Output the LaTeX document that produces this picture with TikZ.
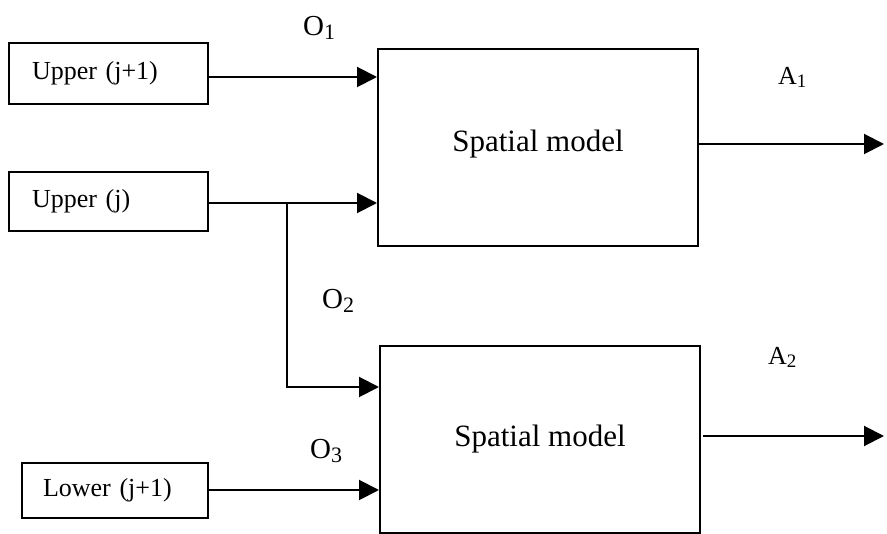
\documentclass[tikz,border=0pt]{standalone}
\usepackage{fontspec}
\setmainfont{Liberation Serif}
\usetikzlibrary{arrows.meta,calc}
\newcommand{\osub}[1]{{\fontsize{22}{22}\selectfont\raisebox{-4pt}{#1}}}
\newcommand{\asub}[1]{{\fontsize{19}{19}\selectfont\raisebox{-3pt}{#1}}}
\begin{document}
\begin{tikzpicture}[x=1pt,y=-1pt,
  lw/.style={line width=2pt},
  inbox/.style={draw,lw,align=left,font=\fontsize{26}{30}\selectfont,inner ysep=0pt},
  model/.style={draw,lw,minimum width=320pt,inner sep=0pt},
  mtext/.style={anchor=base,inner sep=0pt,font=\fontsize{31}{36}\selectfont},
  arr/.style={lw,-{Triangle[length=20pt,width=20pt]}},
  olab/.style={anchor=base west,inner sep=0pt,font=\fontsize{29}{32}\selectfont},
  alab/.style={anchor=base west,inner sep=0pt,font=\fontsize{26}{30}\selectfont}]
\useasboundingbox (0,0) rectangle (887,534);
% input boxes
\node[inbox,minimum width=199pt,minimum height=61pt,text width=153pt,inner xsep=23pt] (u1) at (108.5,73.5) {Upper (j+1)};
\node[inbox,minimum width=199pt,minimum height=59pt,text width=153pt,inner xsep=23pt] (u2) at (108.5,201.5) {Upper (j)};
\node[inbox,minimum width=186pt,minimum height=55pt,text width=144pt,inner xsep=21pt] (lo) at (115,490.5) {Lower (j+1)};
% model boxes
\node[model,minimum height=197pt] (s1) at (538,147.5) {};
\node[model,minimum height=187pt] (s2) at (540,439.5) {};
\node[mtext] (t1) at (538,152) {Spatial model};
\node[mtext] (t2) at (540,447) {Spatial model};
% connectors
\draw[arr] ([yshift=-3.5pt]u1.east) -- ([yshift=-3.5pt]u1.east -| s1.west);
\coordinate (jn) at (287,203);
\draw[lw] ([yshift=-1.5pt]u2.east) -- (jn);
\draw[arr] (jn) -- (jn -| s1.west);
\draw[arr] (jn) |- ([yshift=52.5pt]s2.west);
\draw[arr] ([yshift=0.5pt]lo.east) -- ([yshift=0.5pt]lo.east -| s2.west);
\coordinate (o1) at (884,144);
\coordinate (o2) at (884,436);
\draw[arr] ([yshift=3.5pt]s1.east) -- (o1);
\draw[arr] ([xshift=2pt,yshift=3.5pt]s2.east) -- (o2);
% labels
\node[olab] (lO1) at (303,36) {O\osub{1}};
\node[olab] (lO2) at (322,309) {O\osub{2}};
\node[olab] (lO3) at (310,459) {O\osub{3}};
\node[alab] (lA1) at (778,85) {A\asub{1}};
\node[alab] (lA2) at (768,365) {A\asub{2}};
\end{tikzpicture}
\end{document}
